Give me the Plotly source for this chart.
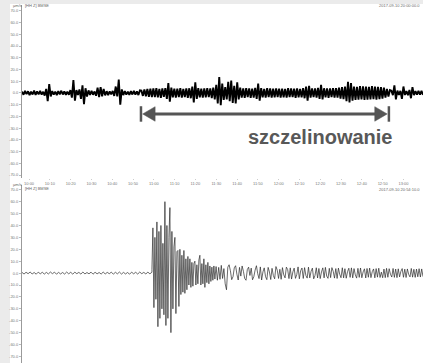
import numpy as np
import plotly.graph_objects as go

W, H = 423, 363

# ---------------- data ----------------
# top panel: hours-long record (minutes), three parts: before / during / after fracturing
top_seg_bounds = [(0.0, 56.7), (57.4, 176.9), (177.6, 192.8)]
top_before = [1.2, -1.5, 1.8, -1.0, 1.4, -1.9, 1.1, -1.3, 2.0, -1.6,
              1.3, -1.2, 1.7, -1.4, 1.0, -2.2, 3.5, -7.0, 7.5, -3.0,
              1.6, -1.4, 1.2, -1.8, 1.5, -1.1, 1.9, -1.3, 1.4, -1.7,
              1.2, -1.5, 2.4, -4.0, 11.0, -6.5, 2.5, -1.8, 3.0, -5.0,
              6.5, -9.5, 4.0, -3.0, 2.2, -1.6, 1.8, -1.5, 1.3, -2.4,
              4.5, -3.5, 5.0, -2.8, 3.5, -2.0, 1.5, -1.8, 1.4, -1.2,
              1.7, -2.5, 5.5, -3.0, 11.5, -10.0, 3.0, -1.8, 1.6, -1.4,
              1.2, -1.7, 1.5, -1.3, 1.9, -1.5, 1.4, -1.8, 2.2]
top_during = [2.0, -2.5, 3.0, -2.8, 3.4, -3.2, 3.6, -3.5, 3.8, -3.6,
              4.0, -3.7, 3.5, -4.1, 3.9, -3.4, 4.2, -5.0, 8.5, -7.5,
              4.5, -3.8, 3.6, -4.0, 3.7, -3.5, 4.1, -3.9, 3.4, -3.6,
              3.8, -4.2, 4.0, -4.5, 5.5, -8.0, 9.0, -5.0, 4.2, -3.8,
              3.6, -4.0, 3.9, -3.7, 4.1, -3.5, 3.8, -4.3, 4.5, -5.5,
              7.0, -9.0, 13.5, -10.5, 8.0, -6.0, 5.0, -5.5, 9.5, -7.0,
              10.5, -8.5, 6.0, -9.0, 9.0, -5.5, 4.5, -4.0, 3.8, -4.2,
              4.0, -3.6, 3.9, -4.1, 3.7, -3.9, 4.4, -5.0, 8.0, -6.5,
              4.2, -3.8, 3.5, -3.9, 4.0, -3.6, 3.8, -4.0, 3.6, -3.7,
              3.9, -3.5, 3.7, -4.0, 3.6, -3.8, 3.5, -3.9, 4.0, -3.6,
              3.8, -3.5, 3.6, -4.1, 3.9, -3.7, 3.5, -3.8, 4.2, -4.5,
              5.5, -6.5, 6.0, -4.0, 3.8, -3.6, 3.9, -4.0, 4.3, -5.0,
              7.0, -5.5, 4.0, -3.7, 3.9, -4.2, 3.8, -3.6, 4.0, -3.9,
              4.2, -4.0, 4.5, -4.8, 5.0, -5.2, 5.5, -7.0, 9.5, -8.0,
              8.5, -6.5, 5.5, -5.8, 5.2, -5.6, 5.8, -5.4, 5.6, -5.9,
              5.5, -5.7, 5.3, -5.5, 5.9, -5.2, 5.4, -5.6, 5.1, -5.3,
              5.0, -4.8, 4.5, -4.0, 3.5, -3.0, 2.5]
top_after = [2.0, -1.8, 6.5, -5.5, 2.0, -1.6, 1.8, -5.0, 5.5, -1.7,
             1.5, -1.9, 2.5, -4.5, 5.0, -1.8, 1.6, -1.4, 1.9, -1.5, 1.7, -1.6]

# bottom panel: earthquake record (seconds)
bot_seg_bounds = [(0.0, 32.4), (32.4, 48.1), (48.4, 100.0)]
bot_pre = [0.6, -0.8, 0.7, -0.5, 0.9, -0.7, 0.5, -0.9, 0.8, -0.6,
           0.7, -0.8, 0.6, -0.7, 0.9, -0.5, 0.8, -0.9, 0.6, -0.7,
           0.5, -0.8, 0.9, -0.6, 0.7, -0.9, 0.8, -0.5, 0.6, -0.8,
           0.9, -0.7, 0.5, -0.6, 0.8, -0.9, 0.7, -0.6, 0.5, -0.8,
           0.9, -0.7, 0.6, -0.5, 0.8, -0.9, 0.7, -0.6, 0.9, -0.8,
           0.6, -0.7, 0.5, -0.9, 0.8, -0.6, 0.7, -0.8, 0.9, -0.5,
           0.6, -0.7, 0.8, -0.6, 0.7]
bot_burst = [3, 38, -29, 30, -22, 43, -45, 35, -38, 40,
             -30, 25, -35, 60, -44, 40, -38, 30, 55, -50,
             35, -30, 22, 30, -34, 18, 19, -28, 20, -18,
             15, -16, 19, -17, 12, -14, 14, -10, 12, -12,
             9, -11, 8, 10, -10, 7, -9, 11, 15, -10,
             8, -9, 12, -12, 7, -8, 9, -9, 6, -7,
             5, -6, 6, -5]
bot_coda = [5.5, -6.0, 4.8, -5.2, 6.5, -4.5, 3.8, -9.0, -14.0, 5.0,
            7.0, 2.0, -5.5, -3.0, 4.5, 6.2, -1.0, -5.8, 4.8, -2.5,
            6.0, 1.5, -4.5, -6.0, 3.0, 5.0, -2.0, 4.2, -5.6, -3.0,
            2.5, 6.2, -0.5, -4.6, 5.2, -5.8, 1.0, 4.4, -3.0, -5.5,
            4.8, 1.0, -5.4, 4.0, -2.0, -4.8, 5.5, 2.5, -4.5, 3.2,
            -5.2, 4.6, -1.5, -4.0, 5.0, 3.0, -4.6, 4.4, -5.0, 1.0,
            4.2, -4.4, -1.2, 5.2, -4.8, 2.0, 4.3, -4.5, 4.6, -2.0,
            -4.2, 5.0, -4.0, 1.5, 4.2, -4.8, -2.0, 4.5, -4.1, 3.9,
            -4.6, 1.0, 4.4, -4.0, 4.8, -2.5, -4.4, 4.0, -3.8, 4.6,
            1.5, -4.2, 3.8, -4.5, 4.2, -1.0, -3.9, 4.5, -4.0, 3.7,
            -4.3, 1.2, 4.1, -3.6, 4.4, -4.0, 3.8, -1.5, -4.2, 4.0,
            -3.6, 4.3, -3.9, 1.0, 3.6, -4.1, 3.9, -3.5, 4.2, -3.8,
            1.2, 3.5, -4.0, 3.8, -3.4, 4.1, -3.7, 0.8, -3.9, 3.4,
            -3.8, 4.0, -3.5, 3.7, -1.0, -3.3, 3.9, -3.6, 3.4, -3.8,
            3.6, -3.2, 1.5, 3.8, -3.5, 3.3, -3.7, 3.5, -1.2, -3.2,
            3.9, -3.4, 3.2, -3.6, 3.4, -3.1, 3.7, -3.3, 3.5, -3.0]

y_tick_vals = [70, 60, 50, 40, 30, 20, 10, 0, -10, -20, -30, -40, -50, -60, -70]
y_tick_text = ["70.0", "60.0", "50.0", "40.0", "30.0", "20.0", "10.0", "0.0",
               "-10.0", "-20.0", "-30.0", "-40.0", "-50.0", "-60.0", "-70.0"]
x_tick_vals = [3.4, 13.4, 23.4, 33.4, 43.4, 53.4, 63.4, 73.4, 83.4, 93.4,
               103.4, 113.4, 123.4, 133.4, 143.4, 153.4, 163.4, 173.4, 183.4]
x_tick_text = ["10:00", "10:10", "10:20", "10:30", "10:40", "10:50", "11:00",
               "11:10", "11:20", "11:30", "11:40", "11:50", "12:00", "12:10",
               "12:20", "12:30", "12:40", "12:50", "13:00"]

frac_start, frac_end = 57.2, 176.4   # fracturing interval (minutes)
frac_label = "szczelinowanie"

# ---------------- build ----------------
def assemble(segs, bounds):
    xs, ys = [], []
    for vals, (a, b) in zip(segs, bounds):
        xs.extend(np.linspace(a, b, len(vals)))
        ys.extend(vals)
    return xs, ys

tx, ty = assemble([top_before, top_during, top_after], top_seg_bounds)
bx, by = assemble([bot_pre, bot_burst, bot_coda], bot_seg_bounds)

fig = go.Figure()
fig.add_trace(go.Scatter(x=tx, y=ty, mode="lines",
                         line=dict(color="#000000", width=1.9, simplify=False),
                         xaxis="x", yaxis="y", hoverinfo="skip", showlegend=False))
fig.add_trace(go.Scatter(x=bx, y=by, mode="lines",
                         line=dict(color="#2a2a2a", width=0.7, simplify=False),
                         xaxis="x2", yaxis="y2", hoverinfo="skip", showlegend=False))

xd = [22 / W, 1.0]
tick_font = dict(size=4, color="#777777", family="Liberation Sans, Arial")
common_y = dict(tickvals=y_tick_vals, ticktext=y_tick_text, tickfont=tick_font,
                showgrid=False, zeroline=False, showline=True, linecolor="#9a9a9a",
                linewidth=1, ticks="outside", ticklen=2, tickcolor="#bbbbbb", fixedrange=True)

fig.update_layout(
    width=W, height=H,
    margin=dict(l=0, r=0, t=0, b=0),
    paper_bgcolor="#ffffff", plot_bgcolor="#ffffff",
    xaxis=dict(domain=xd, range=[0, 192.8], anchor="y", tickvals=x_tick_vals,
               ticktext=x_tick_text, tickfont=tick_font, showgrid=False, zeroline=False,
               showline=False, ticks="outside", ticklen=1, tickcolor="#cccccc"),
    xaxis2=dict(domain=xd, range=[0, 100], anchor="y2", showticklabels=False,
                showgrid=False, zeroline=False, showline=False),
    yaxis=dict(domain=[1 - 178 / H, 1 - 5 / H], range=[-72.5, 75], anchor="x", **common_y),
    yaxis2=dict(domain=[0, 1 - 185 / H], range=[-75.5, 74], anchor="x2", **common_y),
)

# background strips
fig.add_shape(type="rect", xref="paper", yref="paper", x0=0, x1=10 / W, y0=0, y1=1,
              fillcolor="#ebebeb", line_width=0, layer="below")
fig.add_shape(type="rect", xref="paper", yref="paper", x0=0, x1=1, y0=1 - 4 / H, y1=1,
              fillcolor="#ebebeb", line_width=0, layer="below")

# arrow marking fracturing period
ay = -17.9
col = "#555555"
tri_len, tri_h, bar_h = 6.0, 6.2, 6.6
fig.add_shape(type="line", xref="x", yref="y", x0=frac_start + tri_len - 0.5,
              x1=frac_end - tri_len + 0.5, y0=ay, y1=ay, line=dict(color=col, width=3))
fig.add_shape(type="path", xref="x", yref="y",
              path=f"M {frac_start+0.8},{ay} L {frac_start+tri_len+0.8},{ay+tri_h} L {frac_start+tri_len+0.8},{ay-tri_h} Z",
              fillcolor=col, line=dict(color=col, width=0.5))
fig.add_shape(type="path", xref="x", yref="y",
              path=f"M {frac_end-0.8},{ay} L {frac_end-tri_len-0.8},{ay+tri_h} L {frac_end-tri_len-0.8},{ay-tri_h} Z",
              fillcolor=col, line=dict(color=col, width=0.5))
for xb in (frac_start, frac_end):
    fig.add_shape(type="line", xref="x", yref="y", x0=xb, x1=xb, y0=ay - bar_h, y1=ay + bar_h,
                  line=dict(color=col, width=2.5))

fig.add_annotation(x=143.3, y=-37.5, xref="x", yref="y", text="<b>" + frac_label + "</b>",
                   showarrow=False, font=dict(size=20, color="#585858",
                                              family="Liberation Sans, Arial"))

# small header texts
hdr_font = dict(size=4, color="#666666", family="Liberation Sans, Arial")
def hdr(px, py, text, anchor="left"):
    fig.add_annotation(x=px / W, y=1 - py / H, xref="paper", yref="paper", text=text,
                       showarrow=False, xanchor=anchor, yanchor="middle", font=hdr_font)

hdr(11, 6, "µm/s")
hdr(23, 6, "[HH Z] BMSE")
hdr(422, 6, "2017-09-10 20:00:00.0", "right")
hdr(11, 184, "µm/s")
hdr(23, 188, "[HH Z] BMSE")
hdr(422, 189, "2017-09-10 20:54:10.0", "right")

fig.write_html("out.html", config={"displayModeBar": False, "staticPlot": True},
               post_script="document.body.style.margin='0px';document.body.style.padding='0px';")
